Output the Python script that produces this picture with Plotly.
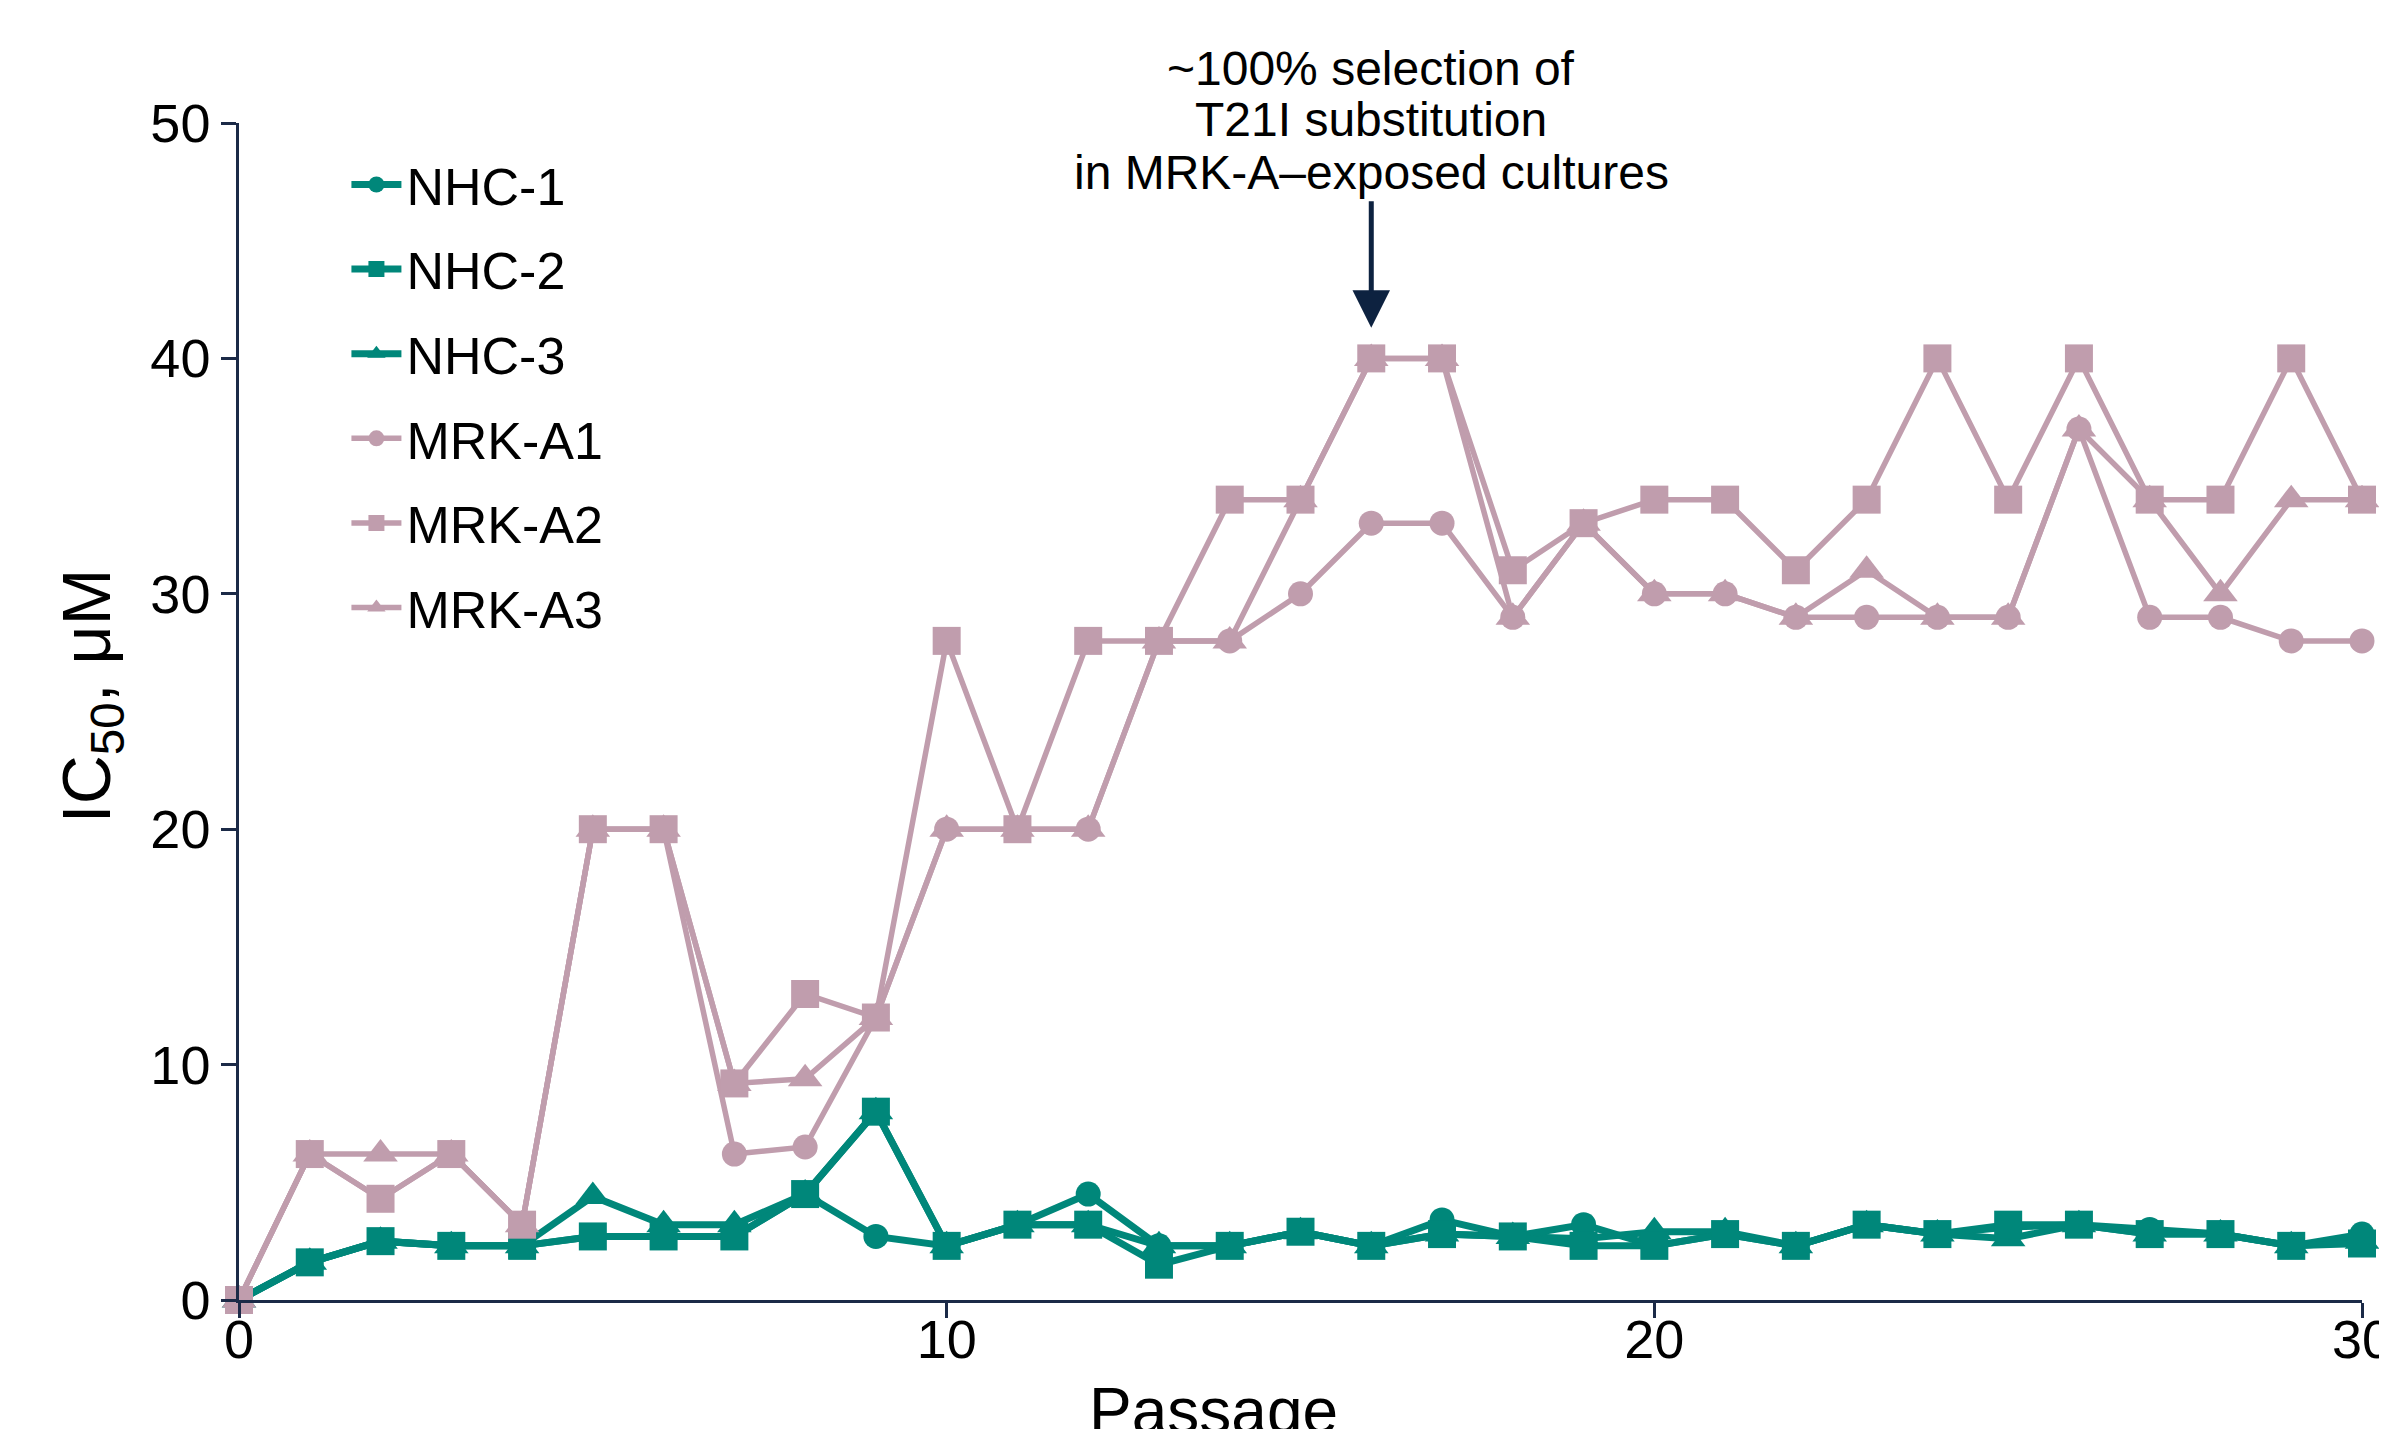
import plotly.graph_objects as go

passage = list(range(0, 31))

nhc_1 = [0, 1.6, 2.5, 2.3, 2.3, 2.7, 2.7, 2.7, 4.5, 2.7, 2.3, 3.2, 4.5, 2.3, 2.3, 2.9, 2.3,
         3.4, 2.7, 3.2, 2.3, 2.8, 2.3, 3.2, 2.8, 3.1, 3.2, 3.0, 2.8, 2.3, 2.8]
nhc_2 = [0, 1.6, 2.5, 2.3, 2.3, 2.7, 2.7, 2.7, 4.5, 8.0, 2.3, 3.2, 3.2, 1.5, 2.3, 2.9, 2.3,
         2.8, 2.7, 2.3, 2.3, 2.8, 2.3, 3.2, 2.8, 3.2, 3.2, 2.8, 2.8, 2.3, 2.4]
nhc_3 = [0, 1.6, 2.5, 2.3, 2.3, 4.4, 3.2, 3.2, 4.5, 8.0, 2.3, 3.2, 3.2, 2.3, 2.3, 2.9, 2.3,
         2.8, 2.7, 2.6, 2.9, 2.9, 2.3, 3.2, 2.8, 2.6, 3.2, 2.8, 2.8, 2.3, 2.5]

mrk_a1 = [0, 6.2, 4.3, 6.2, 3.2, 20, 20, 6.2, 6.5, 12, 20, 20, 20, 28, 28, 30, 33,
          33, 29, 33, 30, 30, 29, 29, 29, 29, 37, 29, 29, 28, 28]
mrk_a2 = [0, 6.2, 4.3, 6.2, 3.2, 20, 20, 9.2, 13, 12, 28, 20, 28, 28, 34, 34, 40,
          40, 31, 33, 34, 34, 31, 34, 40, 34, 40, 34, 34, 40, 34]
mrk_a3 = [0, 6.2, 6.2, 6.2, 3.2, 20, 20, 9.2, 9.4, 12, 20, 20, 20, 28, 28, 34, 40,
          40, 29, 33, 30, 30, 29, 31, 29, 29, 37, 34, 30, 34, 34]

x_ticks = [0, 10, 20, 30]
y_ticks = [0, 10, 20, 30, 40, 50]

TEAL = "#00877A"
PINK = "#C09DAD"
NAVY = "#1B2A47"
FONT = "Arial, 'Liberation Sans', sans-serif"

# (name, values, colour, symbol, marker size, line width, legend rank)
# listed in drawing order (bottom to top)
series = [
    ("NHC-3", nhc_3, TEAL, "triangle-up", 30, 7, 3),
    ("NHC-1", nhc_1, TEAL, "circle", 25, 7, 1),
    ("NHC-2", nhc_2, TEAL, "square", 28, 7, 2),
    ("MRK-A3", mrk_a3, PINK, "triangle-up", 30, 5.5, 6),
    ("MRK-A1", mrk_a1, PINK, "circle", 25, 5.5, 4),
    ("MRK-A2", mrk_a2, PINK, "square", 28, 5.5, 5),
]

fig = go.Figure()
for name, vals, col, sym, msize, lw, rank in series:
    fig.add_trace(go.Scatter(
        x=passage, y=vals, name=name, mode="lines+markers",
        line=dict(color=col, width=lw),
        marker=dict(color=col, symbol=sym, size=msize, line=dict(width=0)),
        legendgroup=name, legendrank=rank, cliponaxis=False,
    ))

# page has an 8px body margin: figure is shifted by 8px, so compensate
fig.update_layout(
    width=2379, height=1421,
    margin=dict(l=231, r=25, t=115, b=129, autoexpand=False),
    paper_bgcolor="white", plot_bgcolor="white",
    font=dict(family=FONT, size=54, color="black"),
    showlegend=True,
    legend=dict(
        x=0.0506, y=0.982, xanchor="left", yanchor="top",
        font=dict(family=FONT, size=52, color="black"),
        tracegroupgap=14, itemwidth=50, bgcolor="rgba(0,0,0,0)",
        traceorder="grouped",
    ),
    xaxis=dict(
        range=[0, 30], tickvals=x_ticks, ticktext=[str(v) for v in x_ticks],
        showline=True, linecolor=NAVY, linewidth=2.5,
        ticks="outside", ticklen=15, tickwidth=2.5, tickcolor=NAVY,
        showgrid=False, zeroline=False, ticklabelstandoff=-25,
        ticklabeloverflow="allow", automargin=False,
        tickfont=dict(family=FONT, size=54, color="black"),
    ),
    yaxis=dict(
        range=[0, 50], tickvals=y_ticks, ticktext=[str(v) for v in y_ticks],
        showline=True, linecolor=NAVY, linewidth=2.5,
        ticks="outside", ticklen=15, tickwidth=2.5, tickcolor=NAVY,
        showgrid=False, zeroline=False, automargin=False,
        tickfont=dict(family=FONT, size=54, color="black"),
    ),
)

# axis titles
fig.add_annotation(text="Passage", xref="paper", yref="paper", x=0.4588, y=-0.094,
                   xanchor="center", yanchor="middle", showarrow=False,
                   font=dict(family=FONT, size=64, color="black"))
fig.add_annotation(text="IC<sub>50</sub>, μM", xref="paper", yref="paper", x=-0.0697, y=0.513,
                   xanchor="center", yanchor="middle", showarrow=False, textangle=-90,
                   font=dict(family=FONT, size=68, color="black"))

# callout text
lines = ["~100% selection of", "T21I substitution", "in MRK-A\u2013exposed cultures"]
line_y_px = [60, 112, 164]   # figure pixels (page minus 8)
for t, ypx in zip(lines, line_y_px):
    fig.add_annotation(text=t, xref="x", yref="paper", x=16, y=(1292 - ypx) / 1177,
                       xanchor="center", yanchor="middle", showarrow=False,
                       font=dict(family=FONT, size=48, color="black"))

# arrow
fig.add_annotation(text="", xref="x", yref="y", x=16, y=41.3, ax=0, ay=-128,
                   showarrow=True, arrowhead=2, arrowsize=1.5, arrowwidth=5, arrowcolor="#0D2240")

fig.write_html("out.html")
